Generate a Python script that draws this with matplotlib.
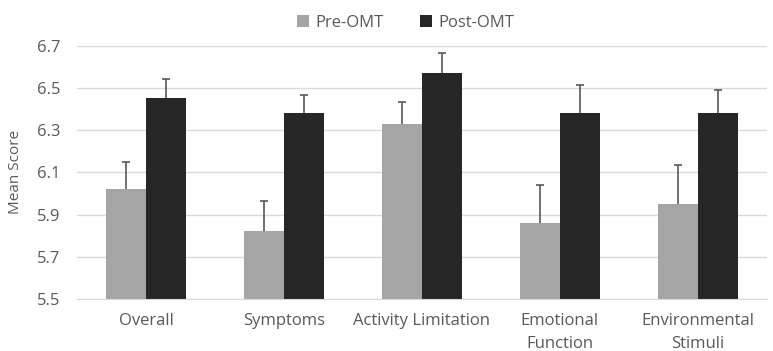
import numpy as np
import matplotlib.pyplot as plt

plt.rcParams['font.family'] = ['Open Sans', 'DejaVu Sans']

categories = ["Overall", "Symptoms", "Activity Limitation", "Emotional\nFunction", "Environmental\nStimuli"]
pre_omt = [6.02, 5.82, 6.33, 5.86, 5.95]
post_omt = [6.45, 6.38, 6.57, 6.38, 6.38]
pre_err = [0.13, 0.145, 0.105, 0.18, 0.185]
post_err = [0.09, 0.085, 0.095, 0.135, 0.11]

text_col = "#595959"
fig = plt.figure(figsize=(7.73, 3.51), dpi=100)
ax = fig.add_axes([0.0996, 0.148, 0.8924, 0.722])

x = np.arange(len(categories))
w = 0.29
ax.bar(x - w / 2, pre_omt, w, color="#A5A5A5", label="Pre-OMT", zorder=2)
ax.bar(x + w / 2, post_omt, w, color="#262626", label="Post-OMT", zorder=2)

# upper-only error bars (hide the cap sitting on the bar top)
for xs, vals, err in [(x - w / 2, pre_omt, pre_err), (x + w / 2, post_omt, post_err)]:
    _, caps, _ = ax.errorbar(xs, vals, yerr=[np.zeros(len(err)), err], fmt="none",
                             ecolor="#595959", elinewidth=1.2, capsize=3, capthick=1.2, zorder=3)
    caps[0].set_visible(False)

ax.set_ylim(5.5, 6.7)
ax.set_xlim(-0.5, len(categories) - 0.5)
ticks = np.arange(5.5, 6.71, 0.2)
ax.set_yticks(ticks)
ax.set_yticklabels([f"{v:.1f}" for v in ticks])
ax.set_xticks(x)
ax.set_xticklabels(categories, linespacing=1.6)
ax.tick_params(axis="both", length=0, labelsize=12, colors=text_col)
ax.tick_params(axis="x", pad=10)
ax.tick_params(axis="y", pad=12)
ax.grid(axis="y", color="#D9D9D9", linewidth=1, zorder=0)
for s in ["top", "right", "left"]:
    ax.spines[s].set_visible(False)
ax.spines["bottom"].set_color("#D9D9D9")
ax.set_ylabel("Mean Score", fontsize=11, color=text_col, labelpad=10)

leg = fig.legend(loc="upper center", bbox_to_anchor=(0.525, 1.0), ncol=2, frameon=False,
                 fontsize=12, handlelength=0.7, handleheight=0.7, columnspacing=2.2,
                 handletextpad=0.4)
for t in leg.get_texts():
    t.set_color(text_col)

fig.savefig("out.png", dpi=100)
